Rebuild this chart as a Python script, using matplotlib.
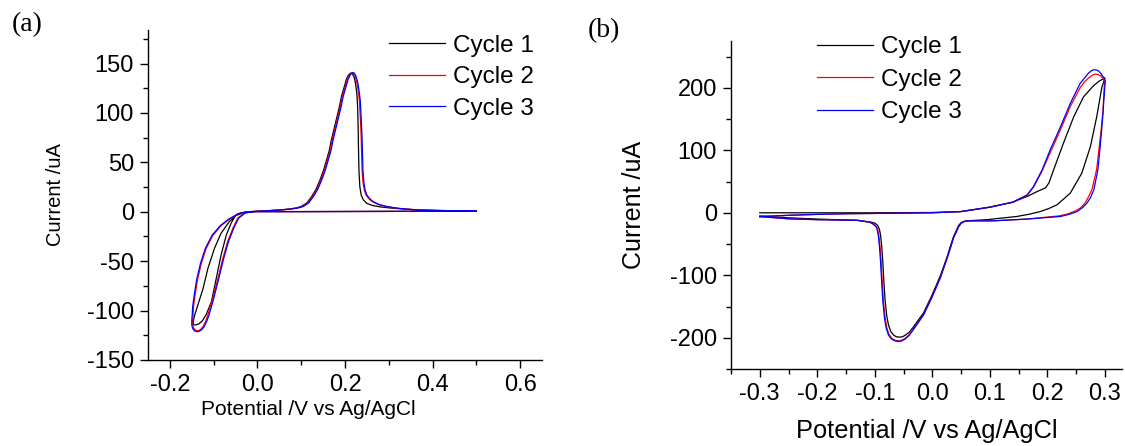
import matplotlib
matplotlib.use('Agg')
import matplotlib.pyplot as plt
from matplotlib.ticker import MultipleLocator, FormatStrFormatter

plt.rcParams['font.family'] = ['Liberation Sans', 'DejaVu Sans']
plt.rcParams['axes.unicode_minus'] = False

# ---- panel (a): potential (V) / current (uA), one closed loop per cycle ----
a_E1 = [0.50, 0.40, 0.30, 0.20, 0.10, 0.00, -0.030, -0.045, -0.052, -0.064, -0.083, -0.098,
        -0.113, -0.124, -0.136, -0.143, -0.146, -0.147, -0.146, -0.143, -0.139, -0.134, -0.126,
        -0.117, -0.105, -0.094, -0.083, -0.071, -0.060, -0.050, -0.037, -0.015, 0.02, 0.05,
        0.071, 0.088, 0.100, 0.113, 0.124, 0.134, 0.143, 0.151, 0.158, 0.164, 0.169, 0.175,
        0.181, 0.187, 0.192, 0.198, 0.203, 0.208, 0.213, 0.217, 0.221, 0.224, 0.227, 0.229,
        0.230, 0.231, 0.232, 0.234, 0.237, 0.242, 0.250, 0.262, 0.280, 0.300, 0.338, 0.370,
        0.414, 0.460, 0.50]
a_I1 = [0.5, 0.5, 0.4, 0.3, 0.2, 0.2, -0.5, -2, -5, -9.8, -21.6, -36.8,
        -57, -77.3, -94.2, -104, -109.5, -112.8, -114.2, -114.5, -114.3, -113.5, -110.5,
        -104, -90.9, -67.2, -43.6, -23.3, -11.4, -3.7, -1.3, 0.3, 1.0, 1.8,
        2.7, 3.8, 5.4, 9, 15.5, 23, 32.4, 42, 52.7, 62, 73, 84,
        95, 106, 117, 126, 134, 138.5, 140.5, 139.5, 136, 130, 120, 105,
        85, 60, 40, 25, 17, 12, 8.5, 6.5, 5, 4, 2.7, 1.8,
        1.3, 1.0, 0.8]

a_E2 = [0.50, 0.40, 0.30, 0.20, 0.10, 0.00, -0.026, -0.048, -0.064, -0.083, -0.102, -0.117,
        -0.128, -0.137, -0.143, -0.146, -0.147, -0.148, -0.148, -0.146, -0.142, -0.138, -0.134,
        -0.129, -0.124, -0.118, -0.113, -0.102, -0.090, -0.079, -0.068, -0.056, -0.045, -0.030,
        -0.010, 0.02, 0.05, 0.073, 0.090, 0.103, 0.115, 0.126, 0.136, 0.145, 0.153, 0.160,
        0.166, 0.171, 0.177, 0.183, 0.189, 0.194, 0.200, 0.205, 0.210, 0.215, 0.219, 0.223,
        0.227, 0.230, 0.233, 0.235, 0.237, 0.238, 0.239, 0.241, 0.244, 0.248, 0.255, 0.262,
        0.275, 0.293, 0.315, 0.338, 0.370, 0.414, 0.460, 0.50]
a_I2 = [0.5, 0.5, 0.4, 0.3, 0.2, 0.2, 0.0, -3.5, -7.5, -14, -24, -37,
        -52, -69, -86, -96, -104, -110, -114, -117.5, -119.5, -120.3, -120.2,
        -118.8, -116, -110.5, -104, -87.5, -67, -47, -30, -16.5, -6.4, -1.3,
        0.3, 1.0, 1.8, 2.7, 3.8, 5.4, 9, 15.5, 23, 32.4, 42, 52.7,
        62, 73, 84, 95, 106, 117, 126, 134, 138.5, 140.5, 140, 137,
        131, 123, 112, 95, 75, 58, 42, 30, 22, 17, 13, 10.4,
        7.5, 5.4, 3.8, 2.7, 1.8, 1.3, 1.0, 0.8]

a_E3 = [0.50, 0.40, 0.30, 0.20, 0.10, 0.00, -0.027, -0.050, -0.066, -0.085, -0.104, -0.119,
        -0.130, -0.139, -0.145, -0.148, -0.149, -0.150, -0.150, -0.148, -0.144, -0.139, -0.134,
        -0.128, -0.122, -0.116, -0.111, -0.100, -0.088, -0.077, -0.066, -0.054, -0.043, -0.028,
        -0.008, 0.02, 0.05, 0.075, 0.092, 0.105, 0.117, 0.128, 0.138, 0.147, 0.155, 0.162,
        0.168, 0.173, 0.179, 0.185, 0.191, 0.196, 0.202, 0.207, 0.212, 0.217, 0.221, 0.225,
        0.229, 0.232, 0.235, 0.237, 0.239, 0.240, 0.241, 0.243, 0.246, 0.250, 0.257, 0.264,
        0.277, 0.295, 0.317, 0.340, 0.372, 0.414, 0.460, 0.50]
a_I3 = [0.5, 0.5, 0.4, 0.3, 0.2, 0.2, 0.0, -3.5, -7.5, -14, -24, -37,
        -52, -69, -86, -96, -104, -110, -114.5, -118, -120.5, -121.3, -121.2,
        -119.5, -116.5, -111, -105, -88, -67, -47, -30, -16.5, -6.4, -1.3,
        0.3, 1.0, 1.8, 2.7, 3.8, 5.4, 9, 15.5, 23, 32.4, 42, 52.7,
        62, 73, 84, 95, 106, 117, 126, 134, 138.5, 141, 140.5, 137.5,
        131, 123, 112, 95, 75, 58, 42, 30, 22, 17, 13, 10.4,
        7.5, 5.4, 3.8, 2.7, 1.8, 1.3, 1.0, 0.8]

# ---- panel (b) ----
b_E1 = [-0.30, -0.20, -0.10, 0.00, 0.05, 0.10, 0.14, 0.167, 0.180, 0.197, 0.203, 0.211,
        0.228, 0.246, 0.263, 0.281, 0.290, 0.300, 0.298, 0.295, 0.286, 0.275, 0.260,
        0.240, 0.217, 0.203, 0.188, 0.170, 0.147, 0.120, 0.095, 0.060, 0.054, 0.050,
        0.046, 0.042, 0.037, 0.032, 0.026, 0.014, -0.001, -0.015, -0.033, -0.040, -0.047,
        -0.052, -0.057, -0.062, -0.067, -0.072, -0.076, -0.079, -0.082, -0.084, -0.086,
        -0.088, -0.090, -0.092, -0.095, -0.100, -0.106, -0.13, -0.20, -0.25, -0.30]
b_I1 = [0, 0, 0, 0.5, 2, 9, 17, 27, 33, 40, 48, 68.6,
        111, 153.6, 185.5, 204, 210.5, 216, 209, 201, 153.6, 105.7, 63.3,
        31.4, 12.8, 7, 2, -2, -5.9, -8.5, -11, -12.8, -14, -16,
        -20, -28, -38, -52, -70, -101, -133, -160, -183, -191, -196,
        -198.5, -199, -198.5, -196, -190, -180, -166, -140, -112, -78,
        -52, -35, -26, -20, -16.5, -15, -12, -10, -8, -5]

b_E2 = [-0.30, -0.25, -0.20, -0.15, -0.10, -0.05, 0.00, 0.05, 0.10, 0.14, 0.165, 0.176,
        0.190, 0.205, 0.223, 0.240, 0.257, 0.265, 0.272, 0.278, 0.283, 0.288, 0.293, 0.297,
        0.300, 0.299, 0.297, 0.294, 0.291, 0.286, 0.278, 0.272, 0.266, 0.258, 0.249, 0.235,
        0.220, 0.165, 0.107, 0.060, 0.054, 0.050, 0.046, 0.042, 0.037, 0.032, 0.026, 0.014,
        -0.001, -0.015, -0.033, -0.040, -0.047, -0.053, -0.059, -0.065, -0.070, -0.075, -0.079,
        -0.082, -0.085, -0.087, -0.089, -0.091, -0.093, -0.095, -0.097, -0.102, -0.108, -0.131,
        -0.20, -0.25, -0.30]
b_I2 = [-6, -4, -2.5, -1.5, -1, -0.5, 0, 2, 9, 17, 28, 41,
        65, 96, 133, 170, 200, 210, 216, 220, 222, 221.5, 219, 215.5,
        212, 200, 165, 135, 110, 70, 38, 26, 16, 8, 3, -2,
        -5, -10, -12.8, -13, -14.5, -17, -22, -30, -40, -55, -72, -104,
        -136, -163, -187, -195, -201, -204, -205, -204, -201, -195, -184,
        -168, -141, -110, -77, -52, -35, -26, -22, -18, -15, -12,
        -11, -9.6, -6]

b_E3 = [-0.30, -0.25, -0.20, -0.15, -0.10, -0.05, 0.00, 0.05, 0.10, 0.14, 0.165, 0.176,
        0.191, 0.205, 0.223, 0.240, 0.257, 0.265, 0.272, 0.277, 0.281, 0.286, 0.290, 0.294,
        0.297, 0.300, 0.301, 0.300, 0.298, 0.297, 0.292, 0.288, 0.281, 0.275, 0.269, 0.261,
        0.252, 0.238, 0.223, 0.165, 0.107, 0.060, 0.054, 0.050, 0.046, 0.042, 0.037, 0.032,
        0.026, 0.014, -0.001, -0.015, -0.033, -0.040, -0.047, -0.053, -0.059, -0.065, -0.071,
        -0.076, -0.080, -0.083, -0.086, -0.088, -0.090, -0.092, -0.094, -0.096, -0.098, -0.103,
        -0.109, -0.131, -0.20, -0.25, -0.30]
b_I3 = [-6, -4, -2.5, -1.5, -1, -0.5, 0, 2, 9, 17, 28.7, 42,
        68.6, 100.5, 137.6, 175, 206.9, 216, 223.8, 227.5, 229, 228.5, 226.5, 222,
        218, 214.8, 210, 200, 175, 159, 105.7, 68.6, 36.7, 24, 15.5, 8,
        2, -2.5, -5.9, -10, -12.8, -13, -14.5, -17, -22, -30, -40, -55,
        -72, -104, -136, -163, -187, -196, -202, -205, -206, -205, -202,
        -196, -185, -169, -141, -110, -77, -52, -35, -26, -22, -18,
        -15, -12, -11, -9.6, -6]

labels = ['Cycle 1', 'Cycle 2', 'Cycle 3']
colors = ['black', 'red', 'blue']

fig = plt.figure(figsize=(11.25, 4.46), dpi=100)
ax_a = fig.add_axes([148 / 1125, 1 - 360 / 446, 394 / 1125, 330 / 446])
ax_b = fig.add_axes([731 / 1125, 1 - 369 / 446, 391 / 1125, 328 / 446])

for E, I, c, lab in zip([a_E1, a_E2, a_E3], [a_I1, a_I2, a_I3], colors, labels):
    ax_a.plot(E, I, color=c, lw=0.9, label=lab)
for E, I, c, lab in zip([b_E1, b_E2, b_E3], [b_I1, b_I2, b_I3], colors, labels):
    ax_b.plot(E, I, color=c, lw=0.9, label=lab)

ax_a.set_xlim(-0.25, 0.65)
ax_a.set_ylim(-150, 184)
ax_a.xaxis.set_major_locator(MultipleLocator(0.2))
ax_a.xaxis.set_minor_locator(MultipleLocator(0.1))
ax_a.yaxis.set_major_locator(MultipleLocator(50))
ax_a.yaxis.set_minor_locator(MultipleLocator(25))

ax_b.set_xlim(-0.35, 0.33)
ax_b.set_ylim(-250, 275)
ax_b.xaxis.set_major_locator(MultipleLocator(0.1))
ax_b.xaxis.set_minor_locator(MultipleLocator(0.05))
ax_b.yaxis.set_major_locator(MultipleLocator(100))
ax_b.yaxis.set_minor_locator(MultipleLocator(50))

for ax in (ax_a, ax_b):
    ax.spines['top'].set_visible(False)
    ax.spines['right'].set_visible(False)
    for s in ('left', 'bottom'):
        ax.spines[s].set_linewidth(1.0)
    ax.xaxis.set_major_formatter(FormatStrFormatter('%.1f'))
    ax.tick_params(which='major', direction='out', length=6, width=1.0, labelsize=17, pad=4)
    ax.tick_params(which='minor', direction='out', length=3.5, width=1.0)

ax_a.set_xlabel('Potential /V vs Ag/AgCl', fontsize=15)
ax_a.xaxis.set_label_coords(0.406, -0.122)
ax_a.set_ylabel('Current /uA', fontsize=14.5)
ax_a.yaxis.set_label_coords(-0.21, 0.5)
ax_b.set_xlabel('Potential /V vs Ag/AgCl', fontsize=18.3, labelpad=10)
ax_b.set_ylabel('Current /uA', fontsize=18)
ax_b.yaxis.set_label_coords(-0.217, 0.5)

for ax, x0, y0, sp in ((ax_a, 0.612, 0.985, 0.39), (ax_b, 0.22, 1.015, 0.43)):
    ax.legend(loc='upper left', bbox_to_anchor=(x0, y0), frameon=False, fontsize=17.5,
              handlelength=2.3, handletextpad=0.33, labelspacing=sp,
              borderpad=0, borderaxespad=0)

fig.text(12 / 1125, 1 - 12 / 446, '(a)', fontsize=20, va='top', family='Liberation Serif')
fig.text(588 / 1125, 1 - 18 / 446, '(b)', fontsize=20, va='top', family='Liberation Serif')

fig.savefig('out.png', dpi=100)
